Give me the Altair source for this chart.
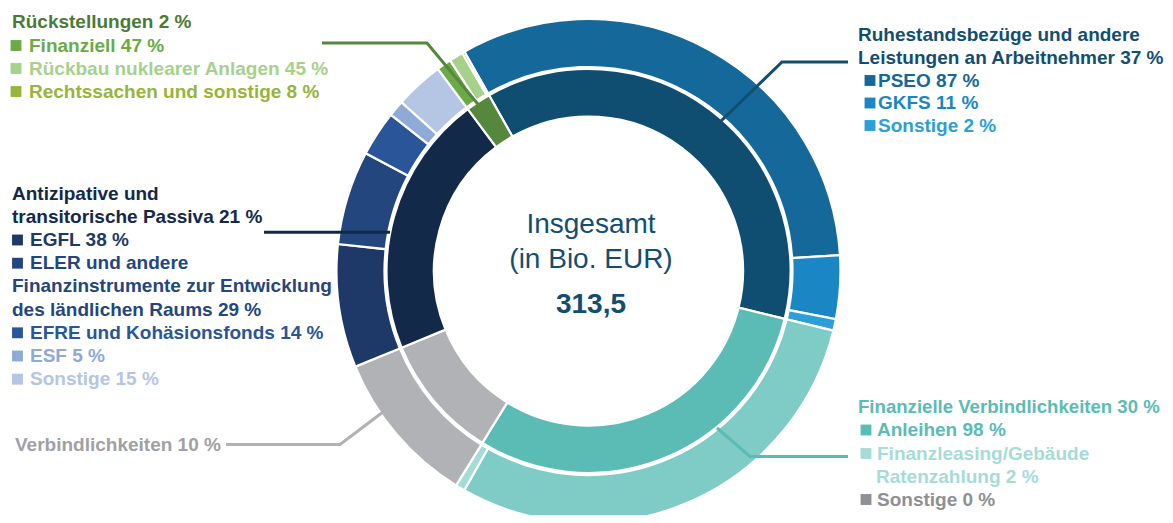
import math
import altair as alt
import pandas as pd

# ---------------- data ----------------
groups = ["Ruhestandsbezüge", "Finanzielle Verbindlichkeiten", "Verbindlichkeiten",
          "Antizipative und transitorische Passiva", "Rückstellungen"]
group_share = [37, 30, 10, 21, 2]
group_colors = ["#0f4e70", "#5bbbb5", "#b1b2b5", "#12294a", "#55883c"]

sub_names = [
    ["PSEO", "GKFS", "Sonstige"],
    ["Anleihen", "Finanzleasing/Gebäude Ratenzahlung", "Sonstige"],
    ["Verbindlichkeiten"],
    ["EGFL", "ELER", "EFRE und Kohäsionsfonds", "ESF", "Sonstige"],
    ["Finanziell", "Rückbau nuklearer Anlagen", "Rechtssachen und sonstige"],
]
sub_share = [
    [87, 11, 2],
    [98, 2, 0],
    [100],
    [38, 29, 14, 5, 15],
    [47, 45, 8],
]
sub_colors = [
    ["#15689a", "#1a87c4", "#2d9fd8"],
    ["#7fcbc5", "#a6dcd8", "#8f9094"],
    ["#b1b2b5"],
    ["#1e3868", "#24467e", "#2a5598", "#8eaad7", "#b5c5e4"],
    ["#6aab45", "#a6d18d", "#95b53b"],
]

total_label = "313,5"

# ---------------- tables ----------------
inner_df = pd.DataFrame({
    "name": groups,
    "value": group_share,
    "color": group_colors,
    "order": list(range(len(groups))),
})

rows = []
k = 0
for gi, g in enumerate(groups):
    s = sum(sub_share[gi])
    for si, n in enumerate(sub_names[gi]):
        rows.append({"name": n, "group": g,
                     "value": group_share[gi] * sub_share[gi][si] / s,
                     "color": sub_colors[gi][si], "order": k})
        k += 1
outer_df = pd.DataFrame(rows)

# ---------------- layout (page px minus 8px margin) ----------------
M = 8
CX, CY = 588.5 - M, 271 - M
start = math.radians(330.5)
theta_scale = alt.Scale(range=[start, start + 2 * math.pi])

def arc_layer(df, r1, r2):
    return alt.Chart(df).mark_arc(radius=r2, radius2=r1, stroke="white",
                                  strokeWidth=2.2).encode(
        theta=alt.Theta("value:Q", stack=True, scale=theta_scale),
        order=alt.Order("order:Q"),
        color=alt.Color("color:N", scale=None),
        x=alt.value(CX), y=alt.value(CY),
    )

inner = arc_layer(inner_df, 154.5, 202)
outer = arc_layer(outer_df, 204, 252)

# labels: (x, baseline y, text, color, size)
label_rows = [
    (12, 28, "Rückstellungen 2 %", "#4a7a35", 19),
    (29, 51.5, "Finanziell 47 %", "#6aab45", 19),
    (29, 74.5, "Rückbau nuklearer Anlagen 45 %", "#a6d18d", 19),
    (29, 97.5, "Rechtssachen und sonstige 8 %", "#95b53b", 19),

    (858, 41, "Ruhestandsbezüge und andere", "#124e70", 19),
    (858, 63.5, "Leistungen an Arbeitnehmer 37 %", "#124e70", 19),
    (878, 86.5, "PSEO 87 %", "#15689a", 19),
    (878, 109, "GKFS 11 %", "#1a87c4", 19),
    (878, 131.5, "Sonstige 2 %", "#2d9fd8", 19),

    (12, 199.5, "Antizipative und", "#12294a", 19),
    (12, 222.7, "transitorische Passiva 21 %", "#12294a", 19),
    (30, 246, "EGFL 38 %", "#1e3868", 19),
    (30, 269.2, "ELER und andere", "#24467e", 19),
    (12, 292.4, "Finanzinstrumente zur Entwicklung", "#24467e", 19),
    (12, 315.6, "des ländlichen Raums 29 %", "#24467e", 19),
    (30, 338.8, "EFRE und Kohäsionsfonds 14 %", "#2a5598", 19),
    (30, 362, "ESF 5 %", "#8eaad7", 19),
    (30, 385.2, "Sonstige 15 %", "#b5c5e4", 19),

    (15, 450.7, "Verbindlichkeiten 10 %", "#a0a1a4", 19),

    (858, 413, "Finanzielle Verbindlichkeiten 30 %", "#5bbbb5", 18.6),
    (877, 436, "Anleihen 98 %", "#5bbbb5", 19),
    (877, 459.5, "Finanzleasing/Gebäude", "#a6dcd8", 19),
    (876, 482.5, "Ratenzahlung 2 %", "#a6dcd8", 19),
    (877, 505.5, "Sonstige 0 %", "#8f9094", 19),
]
labels = pd.DataFrame(label_rows, columns=["x", "y", "text", "color", "size"])
labels["x"] = labels["x"] - M
labels["y"] = labels["y"] - M

center_rows = [
    (591, 233, "Insgesamt", "#124e70", 28, False),
    (591, 268, "(in Bio. EUR)", "#124e70", 28, False),
    (591, 313, total_label, "#124e70", 28, True),
]
center = pd.DataFrame(center_rows, columns=["x", "y", "text", "color", "size", "bold"])
center["x"] = center["x"] - M
center["y"] = center["y"] - M

# legend squares (center x, center y, color)
square_rows = [
    (16, 45.5, "#6aab45"), (16, 68.5, "#a6d18d"), (16, 91.5, "#95b53b"),
    (870, 80.5, "#15689a"), (870, 103, "#1a87c4"), (870, 125.5, "#2d9fd8"),
    (17.5, 240, "#1e3868"), (17.5, 263.2, "#24467e"), (17.5, 332.8, "#2a5598"),
    (17.5, 356, "#8eaad7"), (17.5, 379.2, "#b5c5e4"),
    (866, 430, "#5bbbb5"), (866, 453.5, "#a6dcd8"), (866, 499.5, "#8f9094"),
]
squares = pd.DataFrame(square_rows, columns=["x", "y", "color"])
squares["x"] = squares["x"] - M
squares["y"] = squares["y"] - M

# callout polylines
line_rows = [
    ("r", 0, 322, 43, "#55883c"), ("r", 1, 427, 43, "#55883c"), ("r", 2, 492, 121, "#55883c"),
    ("p", 0, 848, 62, "#124e70"), ("p", 1, 782, 62, "#124e70"), ("p", 2, 721, 121, "#124e70"),
    ("a", 0, 264, 232.3, "#12294a"), ("a", 1, 390, 232.3, "#12294a"),
    ("v", 0, 226, 444.5, "#b1b2b5"), ("v", 1, 340, 444.5, "#b1b2b5"), ("v", 2, 383, 412, "#b1b2b5"),
    ("f", 0, 717, 428, "#5bbbb5"), ("f", 1, 750, 456.5, "#5bbbb5"), ("f", 2, 848, 456.5, "#5bbbb5"),
]
lines = pd.DataFrame(line_rows, columns=["id", "i", "x", "y", "color"])
lines["x"] = lines["x"] - M
lines["y"] = lines["y"] - M

FONT = "Liberation Sans"

label_layer = alt.Chart(labels).mark_text(
    align="left", baseline="alphabetic", font=FONT, fontWeight="bold").encode(
    x=alt.X("x:Q", scale=None), y=alt.Y("y:Q", scale=None), text="text:N",
    color=alt.Color("color:N", scale=None), size=alt.Size("size:Q", scale=None))

center_norm = alt.Chart(center[~center["bold"]]).mark_text(
    align="center", baseline="alphabetic", font=FONT).encode(
    x=alt.X("x:Q", scale=None), y=alt.Y("y:Q", scale=None), text="text:N",
    color=alt.Color("color:N", scale=None), size=alt.Size("size:Q", scale=None))
center_bold = alt.Chart(center[center["bold"]]).mark_text(
    align="center", baseline="alphabetic", font=FONT, fontWeight="bold").encode(
    x=alt.X("x:Q", scale=None), y=alt.Y("y:Q", scale=None), text="text:N",
    color=alt.Color("color:N", scale=None), size=alt.Size("size:Q", scale=None))

square_layer = alt.Chart(squares).mark_square(size=118, opacity=1, filled=True).encode(
    x=alt.X("x:Q", scale=None), y=alt.Y("y:Q", scale=None),
    color=alt.Color("color:N", scale=None))

line_layer = alt.Chart(lines).mark_line(strokeWidth=3, strokeJoin="miter").encode(
    x=alt.X("x:Q", scale=None), y=alt.Y("y:Q", scale=None),
    color=alt.Color("color:N", scale=None), detail="id:N", order="i:Q")

chart = alt.layer(
    inner, outer, line_layer, square_layer, label_layer, center_norm, center_bold
).resolve_scale(color="independent", x="independent", y="independent", size="independent").properties(
    width=1157, height=507, padding=0,
    autosize=alt.AutoSizeParams(type="none"),
).configure_view(stroke=None)

chart.save("out.html", embed_options={"renderer": "svg", "actions": False})
